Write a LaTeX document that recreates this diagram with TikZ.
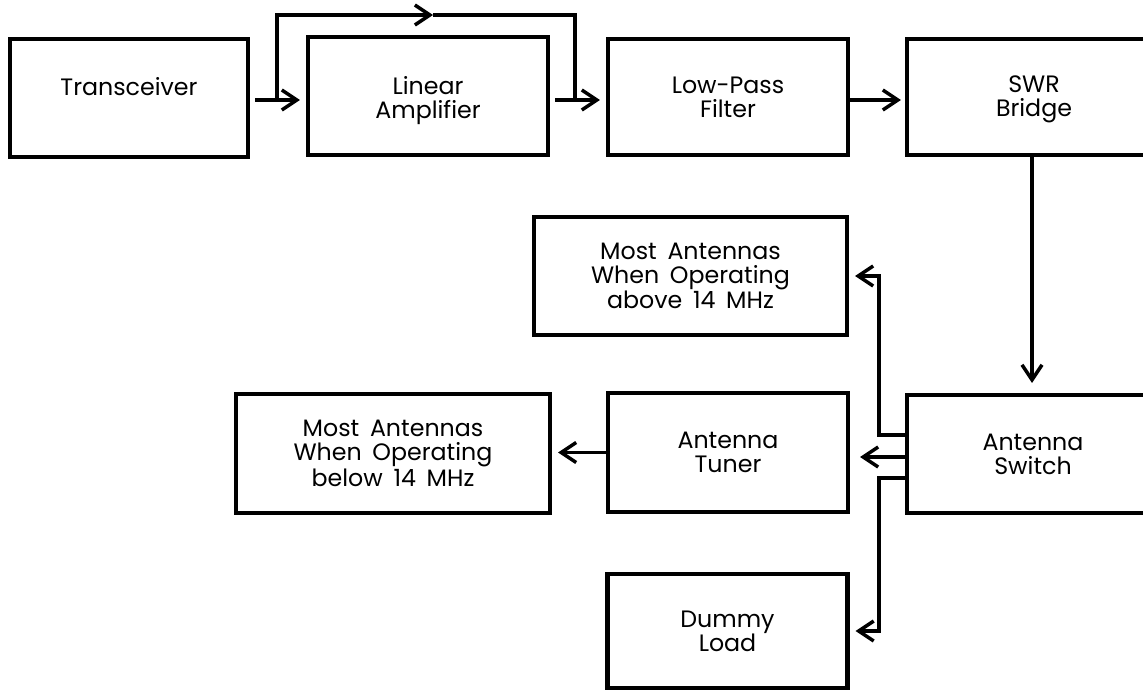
\documentclass[tikz,border=0pt]{standalone}
\usepackage{fontspec}
\setmainfont{Poppins}
\usetikzlibrary{arrows.meta,calc}
\newcommand{\boxfont}{\fontsize{13.5}{13.6}\selectfont\spaceskip=0.45em}
\begin{document}
\begin{tikzpicture}[x=0.02cm,y=-0.02cm,
  box/.style={draw, line width=2.3pt, inner sep=0pt, align=center, font=\boxfont},
  txt/.style={inner sep=0pt, align=center, font=\boxfont},
  conn/.style={line width=2pt},
  tip/.style={-{Straight Barb[length=0.3cm,width=0.4cm,line width=2pt]}},
  arr/.style={conn, tip, shorten >=0.12cm}]
\useasboundingbox (0,0) rectangle (1143,690);
\clip (0,0) rectangle (1143,690);
% boxes
\node[box, minimum width={238*0.02cm}, minimum height={118*0.02cm}] (tr) at (129,98) {};
\node[txt] (trt) at (129,87) {Transceiver};
\node[box, minimum width={240*0.02cm}, minimum height={118*0.02cm}] (la) at (428,96) {};
\node[txt] (lat) at (428,101) {Linear\\Amplifier};
\node[box, minimum width={240*0.02cm}, minimum height={116*0.02cm}] (lp) at (728,97) {Low-Pass\\Filter};
\node[box, minimum width={254*0.02cm}, minimum height={116*0.02cm}] (swr) at (1034,97) {};
\node[txt] (swrt) at (1034,99) {SWR\\Bridge};
\node[box, minimum width={313*0.02cm}, minimum height={118*0.02cm}] (hi) at (690.5,276) {Most Antennas\\When Operating\\above 14 MHz};
\node[box, minimum width={252*0.02cm}, minimum height={118*0.02cm}] (sw) at (1033,454) {Antenna\\Switch};
\node[box, minimum width={240*0.02cm}, minimum height={119*0.02cm}] (tu) at (728,452.5) {Antenna\\Tuner};
\node[box, minimum width={314*0.02cm}, minimum height={119*0.02cm}] (lo) at (393,453.5) {Most Antennas\\When Operating\\below 14 MHz};
\node[box, minimum width={240*0.02cm}, minimum height={114*0.02cm}] (dl) at (727.5,631) {Dummy\\Load};
% top row
\coordinate (t1) at ($(tr.east)+(5,2)$);
\coordinate (t2) at ($(la.east)+(5,4)$);
\draw[arr] (t1) -- (t1 -| la.west);
\draw[arr] (t2) -- (t2 -| lp.west);
\coordinate (b1) at (277,100);
\coordinate (b2) at (575,100);
\coordinate (bt) at (433,15);
\draw[conn, tip] (b1) |- (bt);
\draw[conn] (bt) -| (b2);
\draw[arr, shorten >=0.08cm] ($(lp.east)+(0,3)$) -- ($(swr.west)+(0,3)$);
\draw[arr, shorten >=0.2cm] ($(swr.south)+(-2,0)$) -- ($(sw.north)+(-1,0)$);
% antenna switch outputs
\coordinate (s1) at ($(sw.west)+(0,-19)$);
\coordinate (s2) at ($(sw.west)+(0,3)$);
\coordinate (s3) at ($(sw.west)+(0,24)$);
\draw[arr] (s1) -- ++(-26,0) |- (hi.east);
\draw[arr, shorten >=0.2cm] (s2) -- (s2 -| tu.east);
\draw[arr] (s3) -- ++(-26,0) |- (dl.east);
\draw[arr] (tu.west) -- (tu.west -| lo.east);
\end{tikzpicture}
\end{document}
